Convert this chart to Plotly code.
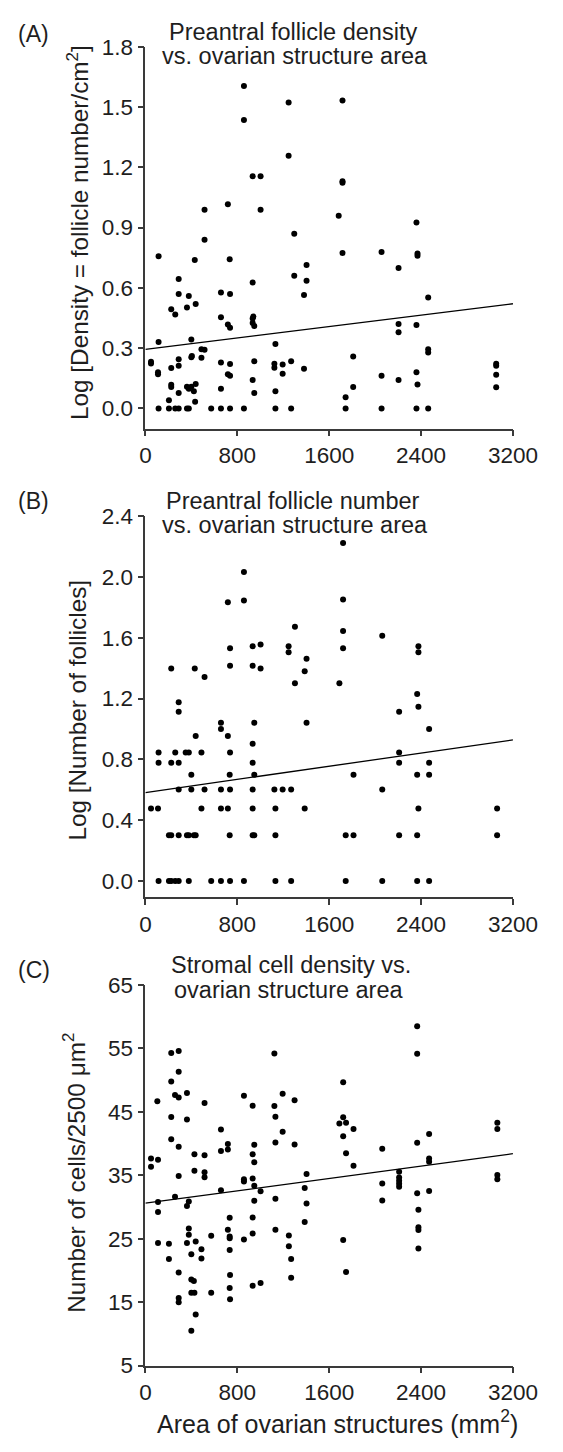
import plotly.graph_objects as go

# ---------------- data ----------------
# Panel A: Log[Density = follicle number/cm2] vs area (mm2)
a_x = [858, 858, 1247, 1247, 934, 1003, 718, 515, 1003, 1296, 515, 115, 430, 734, 1403, 1296, 1403,
       290, 934, 290, 658, 737, 378, 1381, 225, 260, 362, 438, 658, 940, 934, 934, 948, 718, 737,
       115, 400, 1132, 49, 49, 488, 515, 405, 400, 290, 488, 658, 737, 948, 1123, 1123, 1195, 1269,
       1381, 110, 110, 225, 290, 718, 737, 1195, 225, 225, 290, 362, 378, 400, 438, 422, 433, 658,
       934, 948, 1132, 205,
       115, 205, 260, 290, 362, 378, 573, 658, 737, 858, 1132, 1269,
       1716, 1716, 1716, 1683, 1716, 2056, 2360, 2369, 2369, 2204, 2462, 2204, 2204, 2360, 2462, 2462,
       1809, 3054, 3054, 3054, 3054, 2056, 2204, 2360, 2369, 1809, 1743,
       1743, 2056, 2360, 2462]
a_y = [1.605, 1.436, 1.523, 1.258, 1.155, 1.155, 1.016, 0.989, 0.989, 0.869, 0.840, 0.758, 0.739, 0.742,
       0.714, 0.660, 0.636, 0.644, 0.627, 0.570, 0.577, 0.570, 0.560, 0.565, 0.493, 0.467, 0.502, 0.520,
       0.454, 0.458, 0.448, 0.425, 0.410, 0.418, 0.402, 0.330, 0.343, 0.320, 0.232, 0.224, 0.294, 0.292,
       0.261, 0.255, 0.245, 0.252, 0.229, 0.221, 0.235, 0.222, 0.203, 0.219, 0.235, 0.198, 0.180, 0.170,
       0.201, 0.212, 0.170, 0.163, 0.173, 0.118, 0.106, 0.077, 0.108, 0.098, 0.108, 0.121, 0.085, 0.033,
       0.098, 0.142, 0.077, 0.085, 0.041,
       0, 0, 0, 0, 0, 0, 0, 0, 0, 0, 0, 0,
       1.533, 1.131, 1.123, 0.959, 0.773, 0.779, 0.926, 0.771, 0.760, 0.699, 0.552, 0.420, 0.379, 0.415,
       0.294, 0.278, 0.258, 0.222, 0.212, 0.168, 0.105, 0.163, 0.142, 0.180, 0.119, 0.106, 0.056,
       0, 0, 0, 0]
a_fit_x = [0, 3200]
a_fit_y = [0.294, 0.521]

# Panel B: Log[Number of follicles] vs area
b_x = [858, 858, 718, 737, 737, 934, 1003, 934, 1003, 1247, 1247, 1302, 1403, 1387, 1302, 225, 430, 515,
       290, 290, 658, 658, 948, 1403, 438, 718, 934,
       115, 260, 351, 378, 488, 737,
       115, 225, 290, 934,
       400, 734, 948,
       290, 400, 515, 658, 737, 934, 1123, 1195, 1269,
       49, 110, 488, 658, 718, 934, 1132, 1387,
       205, 225, 290, 362, 378, 422, 438, 734, 934, 948, 1132,
       115, 205, 225, 260, 290, 378, 573, 658, 737, 858, 1132, 1269,
       1721, 1721, 1721, 1721, 1689, 2062, 2377, 2377, 2366, 2377, 2209, 2470, 2209, 2209, 2470,
       1812, 2366, 2470, 2062, 2377, 3062, 1744, 1812, 2209, 2366, 3062,
       1744, 2062, 2366, 2470]
b_y = [2.032, 1.845, 1.833, 1.531, 1.415, 1.544, 1.556, 1.415, 1.398, 1.544, 1.505, 1.672, 1.462, 1.380,
       1.301, 1.398, 1.398, 1.342, 1.176, 1.114, 1.041, 1.000, 1.041, 1.041, 0.954, 0.954, 0.903,
       0.845, 0.845, 0.845, 0.845, 0.845, 0.845,
       0.778, 0.778, 0.778, 0.778,
       0.699, 0.699, 0.699,
       0.602, 0.602, 0.602, 0.602, 0.602, 0.602, 0.602, 0.602, 0.602,
       0.477, 0.477, 0.477, 0.477, 0.477, 0.477, 0.477, 0.477,
       0.301, 0.301, 0.301, 0.301, 0.301, 0.301, 0.301, 0.301, 0.301, 0.301, 0.301,
       0, 0, 0, 0, 0, 0, 0, 0, 0, 0, 0, 0,
       2.223, 1.851, 1.644, 1.531, 1.301, 1.613, 1.544, 1.505, 1.230, 1.146, 1.114, 1.000, 0.845,
       0.778, 0.778, 0.699, 0.699, 0.699, 0.602, 0.477, 0.477, 0.301, 0.301, 0.301, 0.301, 0.301,
       0, 0, 0, 0]
b_fit_x = [0, 3200]
b_fit_y = [0.582, 0.928]

# Panel C: Number of cells/2500 um2 vs area
c_x = [225, 290, 290, 225, 258, 290, 362, 104, 515, 225, 362, 225, 290, 49, 49, 110, 427, 515, 427,
       515, 515, 290, 258, 110, 378, 362, 110, 110, 205, 378, 378, 362, 438, 400, 488, 488, 205, 290,
       290, 290, 400, 422, 400, 427, 438, 400, 573, 658, 658, 718, 718, 658, 734, 718, 734, 734, 734,
       573, 737, 734, 737, 858, 934, 948, 934, 948, 858, 858, 934, 948, 1003, 948, 934, 934, 858, 934,
       1003, 1123, 1123, 1195, 1299, 1132, 1195, 1132, 1299, 1403, 1387, 1403, 1132, 1387, 1132, 1249,
       1249, 1269, 1269,
       2366, 2366, 1722, 1722, 1689, 1747, 1812, 1722, 1747, 1812, 2062, 2062, 2062, 2209, 2209, 2209,
       2209, 2209, 2366, 2366, 2377, 2377, 2377, 2377, 2470, 2470, 2470, 2470, 3064, 3064, 3064, 3064,
       1722, 1747]
c_y = [54.26, 54.57, 51.32, 49.77, 47.65, 47.24, 47.96, 46.67, 46.41, 44.19, 43.78, 40.68, 39.49, 37.64,
       36.35, 37.43, 38.31, 38.15, 35.73, 35.47, 34.69, 34.90, 31.60, 30.77, 30.87, 30.15, 29.22, 24.31,
       24.21, 26.59, 25.61, 24.31, 24.57, 22.56, 23.33, 21.89, 21.79, 19.67, 15.64, 14.97, 18.58, 18.33,
       16.47, 16.47, 13.06, 10.48, 16.47, 42.23, 38.82, 39.91, 39.08, 32.63, 28.29, 26.43, 25.35, 25.09,
       23.23, 25.45, 19.26, 17.24, 15.44, 47.55, 45.95, 39.80, 38.31, 37.07, 34.38, 34.02, 34.49, 33.35,
       32.47, 30.98, 28.34, 25.81, 24.88, 17.60, 18.02, 54.21, 45.90, 47.86, 46.83, 44.24, 41.87, 40.17,
       39.86, 35.21, 32.99, 30.56, 31.29, 27.62, 26.43, 25.50, 23.80, 21.79, 18.84,
       58.49, 54.16, 49.67, 44.14, 43.16, 43.26, 42.28, 41.15, 38.46, 36.50, 39.18, 33.71, 31.03, 35.57,
       34.64, 34.12, 33.66, 33.20, 40.11, 32.16, 29.58, 26.79, 26.38, 23.44, 41.51, 37.64, 37.12, 32.52,
       43.26, 42.28, 35.05, 34.38, 24.78, 19.77]
c_fit_x = [0, 3200]
c_fit_y = [30.6, 38.4]

x_ticks = [0, 800, 1600, 2400, 3200]
a_ticks = [0.0, 0.3, 0.6, 0.9, 1.2, 1.5, 1.8]
b_ticks = [0.0, 0.4, 0.8, 1.2, 1.6, 2.0, 2.4]
c_ticks = [5, 15, 25, 35, 45, 55, 65]

# ---------------- layout helpers ----------------
W, H = 563, 1452
FONT = "Liberation Sans, Arial, Helvetica, sans-serif"
AX = "#3a3a3a"
TXT = "#1e1e1e"


def fy(py):
    return 1 - py / H


def fx(px):
    return px / W


xdom = [fx(147.5), fx(536.5)]
ydoms = [[fy(424), fy(35.4)], [fy(901), fy(512.9)], [fy(1377.3), fy(990)]]
yranges = [[-0.101, 1.8], [-0.108, 2.4], [5, 65]]
yticks = [a_ticks, b_ticks, c_ticks]
yfmt = [".1f", ".1f", "d"]

fig = go.Figure()
panels = [(a_x, a_y, a_fit_x, a_fit_y), (b_x, b_y, b_fit_x, b_fit_y), (c_x, c_y, c_fit_x, c_fit_y)]
for i, (px_, py_, fx_, fy_) in enumerate(panels):
    xa = "x" if i == 0 else f"x{i+1}"
    ya = "y" if i == 0 else f"y{i+1}"
    fig.add_trace(go.Scatter(x=px_, y=py_, mode="markers", xaxis=xa, yaxis=ya,
                             marker=dict(color="black", size=6), showlegend=False))
    fig.add_trace(go.Scatter(x=fx_, y=fy_, mode="lines", xaxis=xa, yaxis=ya,
                             line=dict(color="black", width=1.3), showlegend=False))

axis_common = dict(showgrid=False, zeroline=False, showline=True, linecolor=AX, linewidth=1.6,
                   ticks="outside", ticklen=6, tickwidth=1.6, tickcolor=AX,
                   tickfont=dict(family=FONT, size=22.5, color=TXT))
layout = {}
for i in range(3):
    xk = "xaxis" if i == 0 else f"xaxis{i+1}"
    yk = "yaxis" if i == 0 else f"yaxis{i+1}"
    ya = "y" if i == 0 else f"y{i+1}"
    xa = "x" if i == 0 else f"x{i+1}"
    layout[xk] = dict(domain=xdom, anchor=ya, range=[0, 3200], tickvals=x_ticks, **axis_common)
    layout[yk] = dict(domain=ydoms[i], anchor=xa, range=yranges[i], tickvals=yticks[i],
                      tickformat=yfmt[i], **axis_common)
fig.update_layout(**layout)

ann = []


def add_text(text, px, py, angle=0, size=24, xanchor="center"):
    ann.append(dict(text=text, x=fx(px), y=fy(py), xref="paper", yref="paper", showarrow=False,
                    xanchor=xanchor, yanchor="middle", textangle=angle,
                    font=dict(family=FONT, size=size, color=TXT)))


# panel labels
add_text("(A)", 11, 22, xanchor="left", size=23)
add_text("(B)", 11, 498, xanchor="left", size=23)
add_text("(C)", 11, 975, xanchor="left", size=23)
# titles
TS = 23.5
add_text("Preantral follicle density", 304, 20.3, size=TS)
add_text("vs. ovarian structure area", 306, 45.2, size=TS)
add_text("Preantral follicle number", 304, 497.3, size=TS)
add_text("vs. ovarian structure area", 306, 522.2, size=TS)
add_text("Stromal cell density vs.", 302, 969.8, size=TS)
add_text("ovarian structure area", 300, 994.7, size=TS)
# y axis titles
add_text("Log [Density = follicle number/cm<sup>2</sup>]", 76, 224, angle=-90, size=24.3)
add_text("Log [Number of follicles]", 76, 710, angle=-90, size=24.3)
add_text("Number of cells/2500 μm<sup>2</sup>", 72, 1181, angle=-90, size=24.3)
# x axis title
add_text("Area of ovarian structures (mm<sup>2</sup>)", 351, 1435, size=25)

fig.update_layout(width=W, height=H, margin=dict(l=0, r=0, t=0, b=0),
                  plot_bgcolor="white", paper_bgcolor="white", annotations=ann)
fig.write_html("out.html", config={"displayModeBar": False},
               post_script="document.body.style.margin='0';document.body.style.overflow='hidden';")
